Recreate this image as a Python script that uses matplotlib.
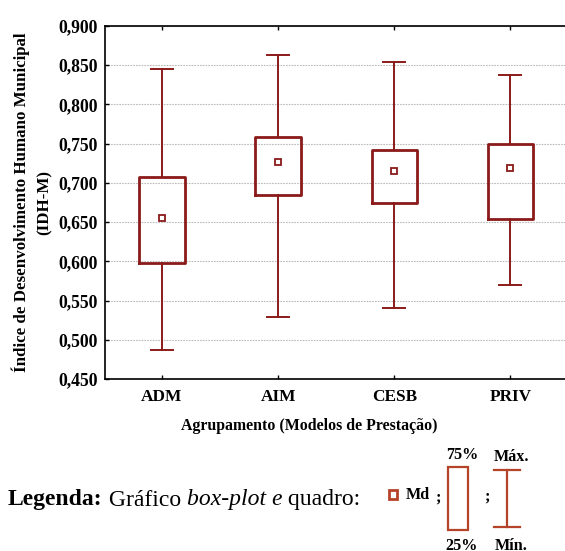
import matplotlib
matplotlib.use("Agg")
import matplotlib.pyplot as plt
from matplotlib.patches import Rectangle
from matplotlib.lines import Line2D

categories = ["ADM", "AIM", "CESB", "PRIV"]
medians = [0.655, 0.727, 0.715, 0.719]
q1 = [0.598, 0.685, 0.675, 0.654]
q3 = [0.707, 0.758, 0.742, 0.750]
mins = [0.487, 0.529, 0.540, 0.570]
maxs = [0.845, 0.863, 0.854, 0.837]
yticks = [0.45, 0.50, 0.55, 0.60, 0.65, 0.70, 0.75, 0.80, 0.85, 0.90]

plt.rcParams['font.family'] = ['Liberation Serif', 'DejaVu Serif']

RED = '#8b1a1a'
LRED = '#b5432a'

fig = plt.figure(figsize=(5.65, 5.51), dpi=100)
ax = fig.add_axes([105/565, 1-379/551, 1-105/565, (379-26)/551])

stats = []
for i, c in enumerate(categories):
    stats.append(dict(label=c, med=medians[i], q1=q1[i], q3=q3[i],
                      whislo=mins[i], whishi=maxs[i], fliers=[]))
pos = list(range(len(categories)))
ax.bxp(stats, positions=pos, widths=0.39, capwidths=0.19, showfliers=False,
       boxprops=dict(color=RED, linewidth=2.0),
       whiskerprops=dict(color=RED, linewidth=1.4),
       capprops=dict(color=RED, linewidth=1.4),
       medianprops=dict(linestyle='none'), zorder=3)
ax.plot(pos, medians, linestyle='none', marker='s', markersize=5,
        markerfacecolor='white', markeredgecolor=RED, markeredgewidth=1.3, zorder=4)

ax.set_xlim(-0.49, 3.47)
ax.set_ylim(0.45, 0.90)
ax.set_yticks(yticks)
ax.set_yticklabels([f"{v:.3f}".replace('.', ',') for v in yticks],
                   fontweight='bold', fontsize=12.7)
ax.set_xticks(pos)
ax.set_xticklabels(categories, fontweight='bold', fontsize=12.4)
ax.tick_params(axis='both', direction='in', length=3, width=1, top=True, right=False)
ax.tick_params(axis='x', pad=7)
ax.tick_params(axis='y', pad=5)
ax.yaxis.grid(True, color='#bbbbbb', linestyle=(0, (1.5, 1)), linewidth=0.8)
ax.set_axisbelow(True)
ax.spines['right'].set_visible(False)
for s in ['left', 'top', 'bottom']:
    ax.spines[s].set_linewidth(1.2)

ax.set_xlabel("Agrupamento (Modelos de Prestação)", fontweight='bold', fontsize=11.4)
ax.xaxis.set_label_coords((309 - 105) / 460, -(418 - 379) / 353, transform=ax.transAxes)
ax.set_ylabel("Índice de Desenvolvimento Humano Municipal\n(IDH-M)", fontweight='bold',
              fontsize=12.2, labelpad=4, linespacing=1.6)

# Legend text
ly = 1 - 500/551
LFS = 17
t1 = fig.text(8/565, ly, "Legenda:", fontweight='bold', fontsize=LFS, va='center')
fig.canvas.draw()
r = fig.canvas.get_renderer()
bb = t1.get_window_extent(r)
x = bb.x1 / 565
t2 = fig.text(x, ly, " Gráfico ", fontsize=LFS, va='center')
bb = t2.get_window_extent(r); x = bb.x1 / 565
t3 = fig.text(x, ly, "box-plot e", fontsize=LFS, va='center', style='italic')
bb = t3.get_window_extent(r); x = bb.x1 / 565
t4 = fig.text(x, ly, " quadro:", fontsize=LFS, va='center')

def fx(px):
    return px / 565
def fy(py):
    return 1 - py / 551

SFS = 11.6
fig.add_artist(Rectangle((fx(389), fy(499)), fx(8), 9/551, fill=False,
                         edgecolor=LRED, linewidth=2, transform=fig.transFigure))
fig.text(fx(406), fy(495), "Md", fontweight='bold', fontsize=SFS, va='center')
fig.text(fx(435), fy(498), ";", fontweight='bold', fontsize=SFS, va='center')
fig.add_artist(Rectangle((fx(448), fy(530)), fx(20), 63/551, fill=False,
                         edgecolor=LRED, linewidth=1.6, transform=fig.transFigure))
fig.text(fx(462), fy(455), "75%", fontweight='bold', fontsize=SFS, va='center', ha='center')
fig.text(fx(462), fy(546), "25%", fontweight='bold', fontsize=SFS, va='center', ha='center')
fig.text(fx(484), fy(497), ";", fontweight='bold', fontsize=SFS, va='center')
fig.add_artist(Line2D([fx(507), fx(507)], [fy(470), fy(527)], color=LRED, linewidth=1.6,
                      transform=fig.transFigure))
fig.add_artist(Line2D([fx(494), fx(520)], [fy(470), fy(470)], color=LRED, linewidth=1.6,
                      transform=fig.transFigure))
fig.add_artist(Line2D([fx(494), fx(520)], [fy(527), fy(527)], color=LRED, linewidth=1.6,
                      transform=fig.transFigure))
fig.text(fx(511), fy(457), "Máx.", fontweight='bold', fontsize=SFS, va='center', ha='center')
fig.text(fx(511), fy(546), "Mín.", fontweight='bold', fontsize=SFS, va='center', ha='center')

fig.savefig("out.png", dpi=100)
